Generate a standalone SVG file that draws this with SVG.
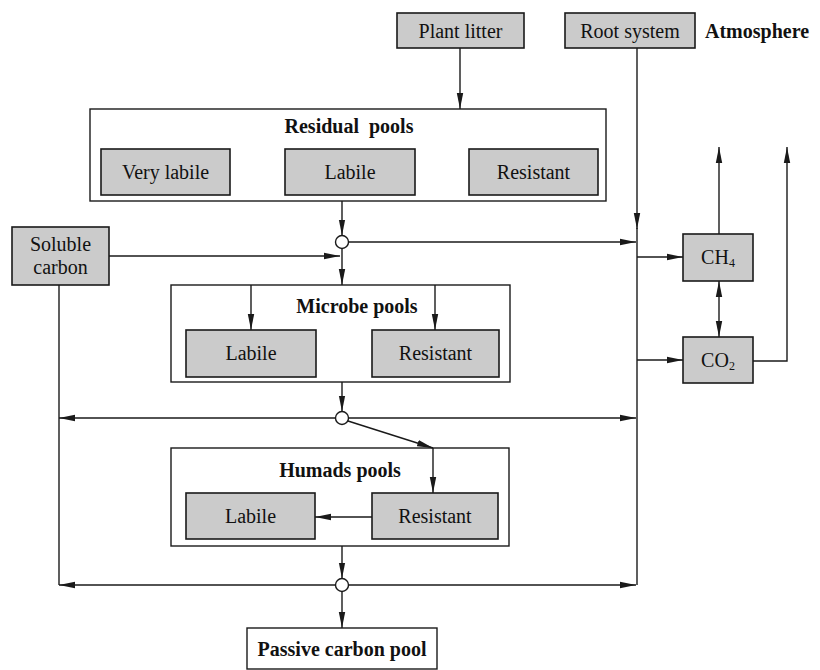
<svg xmlns="http://www.w3.org/2000/svg" width="820" height="670" viewBox="0 0 820 670">
<style>
  .g{fill:#cbcbcb;stroke:#1a1a1a;stroke-width:1.6}
  .o{fill:#fff;stroke:#1a1a1a;stroke-width:1.4}
  .t{font-family:"Liberation Serif","Times New Roman",serif;font-size:20px;fill:#111;text-anchor:middle}
  .b{font-weight:bold}
  .l{fill:none;stroke:#1a1a1a;stroke-width:1.4}
  .c{fill:#fff;stroke:#1a1a1a;stroke-width:1.4}
</style>
<defs>
  <marker id="a" viewBox="0 0 16 8" refX="16" refY="4" markerWidth="16" markerHeight="8" markerUnits="userSpaceOnUse" orient="auto">
    <path d="M0,0.8 L16,4 L0,7.2 Z" fill="#1a1a1a"/>
  </marker>
  <marker id="s" viewBox="0 0 16 8" refX="0" refY="4" markerWidth="16" markerHeight="8" markerUnits="userSpaceOnUse" orient="auto">
    <path d="M16,0.8 L0,4 L16,7.2 Z" fill="#1a1a1a"/>
  </marker>
</defs>

<g id="plant-litter"><rect class="g" x="397" y="13" width="127" height="35"/><text class="t" x="460.5" y="38">Plant litter</text></g>
<g id="root-system"><rect class="g" x="565" y="13" width="130" height="35"/><text class="t" x="630" y="38">Root system</text></g>
<g id="atmosphere"><text class="t b" x="705" y="38" style="text-anchor:start">Atmosphere</text></g>

<g id="residual-pools">
  <rect class="o" x="90" y="109" width="516" height="92"/>
  <text class="t b" x="349" y="133">Residual&#160; pools</text>
  <rect class="g" x="101" y="149" width="129" height="46"/><text class="t" x="165.5" y="179">Very labile</text>
  <rect class="g" x="285" y="149" width="130" height="46"/><text class="t" x="350" y="179">Labile</text>
  <rect class="g" x="469" y="149" width="129" height="46"/><text class="t" x="533.5" y="179">Resistant</text>
</g>

<g id="soluble-carbon"><rect class="g" x="12" y="227" width="97" height="58"/><text class="t" x="60.5" y="251">Soluble</text><text class="t" x="60.5" y="274">carbon</text></g>

<g id="microbe-pools">
  <rect class="o" x="171" y="285" width="339" height="97"/>
  <text class="t b" x="357" y="313">Microbe pools</text>
  <rect class="g" x="186" y="330" width="130" height="47"/><text class="t" x="251" y="360">Labile</text>
  <rect class="g" x="372" y="330" width="127" height="47"/><text class="t" x="435.5" y="360">Resistant</text>
</g>

<g id="humads-pools">
  <rect class="o" x="171" y="448" width="338" height="98"/>
  <text class="t b" x="340" y="477">Humads pools</text>
  <rect class="g" x="186" y="493" width="129" height="46"/><text class="t" x="250.5" y="523">Labile</text>
  <rect class="g" x="372" y="493" width="126" height="46"/><text class="t" x="435" y="523">Resistant</text>
</g>

<g id="ch4"><rect class="g" x="683" y="234" width="70" height="47"/><text class="t" x="718" y="264">CH<tspan font-size="12" dy="3">4</tspan></text></g>
<g id="co2"><rect class="g" x="683" y="337" width="70" height="46"/><text class="t" x="718" y="367">CO<tspan font-size="12" dy="3">2</tspan></text></g>

<g id="passive-carbon-pool"><rect class="o" x="247" y="628" width="190" height="41"/><text class="t b" x="342" y="656">Passive carbon pool</text></g>

<g id="connectors">
  <line class="l" x1="460" y1="48" x2="460" y2="109" marker-end="url(#a)"/>
  <line class="l" x1="637" y1="48" x2="637" y2="229" marker-end="url(#a)"/>
  <line class="l" x1="637" y1="228" x2="637" y2="585"/>
  <line class="l" x1="342" y1="201" x2="342" y2="235.5" marker-end="url(#a)"/>
  <line class="l" x1="348.5" y1="242" x2="636" y2="242" marker-end="url(#a)"/>
  <line class="l" x1="109" y1="256" x2="340" y2="256" marker-end="url(#a)"/>
  <line class="l" x1="342" y1="248.5" x2="342" y2="285" marker-end="url(#a)"/>
  <line class="l" x1="637" y1="257" x2="683" y2="257" marker-end="url(#a)"/>
  <line class="l" x1="637" y1="360" x2="683" y2="360" marker-end="url(#a)"/>
  <line class="l" x1="719" y1="234" x2="719" y2="147" marker-end="url(#a)"/>
  <line class="l" x1="719" y1="281" x2="719" y2="337" marker-start="url(#s)" marker-end="url(#a)"/>
  <polyline class="l" points="753,361 787,361 787,147" marker-end="url(#a)"/>
  <line class="l" x1="59" y1="285" x2="59" y2="585"/>
  <line class="l" x1="251" y1="285" x2="251" y2="330" marker-end="url(#a)"/>
  <line class="l" x1="435" y1="285" x2="435" y2="330" marker-end="url(#a)"/>
  <line class="l" x1="342" y1="382" x2="342" y2="411.5" marker-end="url(#a)"/>
  <line class="l" x1="335.5" y1="418" x2="59" y2="418" marker-end="url(#a)"/>
  <line class="l" x1="348.5" y1="418" x2="636" y2="418" marker-end="url(#a)"/>
  <line class="l" x1="348" y1="421" x2="433" y2="448" marker-end="url(#a)"/>
  <line class="l" x1="433" y1="448" x2="433" y2="493" marker-end="url(#a)"/>
  <line class="l" x1="372" y1="517" x2="315" y2="517" marker-end="url(#a)"/>
  <line class="l" x1="342" y1="546" x2="342" y2="578.5" marker-end="url(#a)"/>
  <line class="l" x1="335.5" y1="585" x2="59" y2="585" marker-end="url(#a)"/>
  <line class="l" x1="348.5" y1="585" x2="636" y2="585" marker-end="url(#a)"/>
  <line class="l" x1="342" y1="591.5" x2="342" y2="628" marker-end="url(#a)"/>
  <circle class="c" cx="342" cy="242" r="6.5"/>
  <circle class="c" cx="342" cy="418" r="6.5"/>
  <circle class="c" cx="342" cy="585" r="6.5"/>
</g>
</svg>
